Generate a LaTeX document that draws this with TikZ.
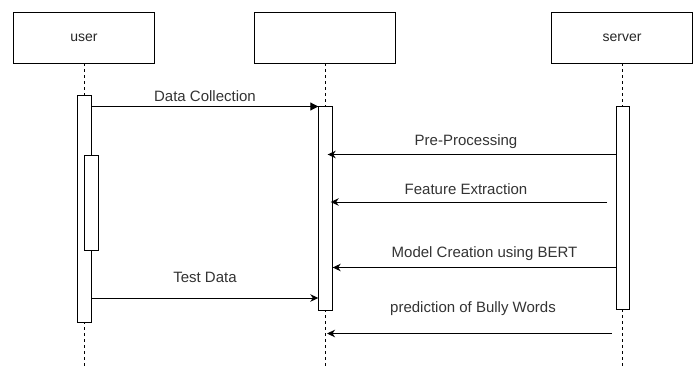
\documentclass[tikz,border=0pt]{standalone}
\usepackage{fontspec}
\setmainfont{Liberation Sans}
\usetikzlibrary{arrows.meta}
\begin{document}
\begin{tikzpicture}[x=1pt,y=-1pt,
  head/.style={draw, line width=0.9pt, minimum width=141pt, minimum height=51pt,
    inner sep=0pt, font=\fontsize{14}{16}\selectfont, text=black!85},
  act/.style={draw, fill=white, line width=0.9pt, minimum width=13.5pt, inner sep=0pt},
  life/.style={dash pattern=on 3pt off 3pt, line width=0.9pt},
  msg/.style={line width=0.9pt, -{Stealth[length=8pt,width=7.5pt,inset=2.5pt]}},
  blk/.style={line width=0.9pt, -{Triangle[length=8pt,width=8pt]}},
  lbl/.style={font=\fontsize{15}{18}\selectfont, text=black!80, inner sep=0pt}]
  \useasboundingbox (0,0) rectangle (698,369);

  % participants
  \node[head] (user)   at (84,37.5)   {user};
  \node[head] (mid)    at (325,37.5)  {};
  \node[head] (server) at (622,37.5)  {server};

  % lifelines
  \coordinate (bot) at (0,369);
  \draw[life] (user.south)   -- (user.south |- bot);
  \draw[life] (mid.south)    -- (mid.south |- bot);
  \draw[life] (server.south) -- (server.south |- bot);

  % activation bars
  \node[act, minimum height=227pt]   (ua) at (84.5,208.5) {};
  \node[act, minimum height=95pt]    (ub) at (91.5,202.5) {};
  \node[act, minimum height=203.5pt] (ma) at (325.5,208.25) {};
  \node[act, minimum height=202.5pt] (sa) at (623,207.75) {};

  % message rows
  \coordinate (r1) at (0,106.5);
  \coordinate (r2) at (0,154.5);
  \coordinate (r3) at (0,202);
  \coordinate (r4) at (0,267.5);
  \coordinate (r5) at (0,298);
  \coordinate (r6) at (0,333.5);
  \coordinate (fe) at (607,202);
  \coordinate (pb) at (611.5,333.5);
  \coordinate (pt) at (327,333.5);

  % messages
  \draw[blk] (ua.east |- r1) -- (ma.west |- r1);
  \draw[msg] (sa.west |- r2) -- ([xshift=-5pt]ma.east |- r2);
  \draw[msg] (fe) -- ([xshift=-2pt]ma.east |- r3);
  \draw[msg] (sa.west |- r4) -- (ma.east |- r4);
  \draw[msg] (ua.east |- r5) -- (ma.west |- r5);
  \draw[msg] (pb) -- (pt);

  % message labels
  \node[lbl] (l1) at (205,96)    {Data Collection};
  \node[lbl] (l2) at (466,142)   {Pre-Processing};
  \node[lbl] (l3) at (466,189)   {Feature Extraction};
  \node[lbl] (l4) at (484.5,254) {Model Creation using BERT};
  \node[lbl] (l5) at (205,277.5) {Test Data};
  \node[lbl] (l6) at (473,309)   {prediction of Bully Words};
\end{tikzpicture}
\end{document}
